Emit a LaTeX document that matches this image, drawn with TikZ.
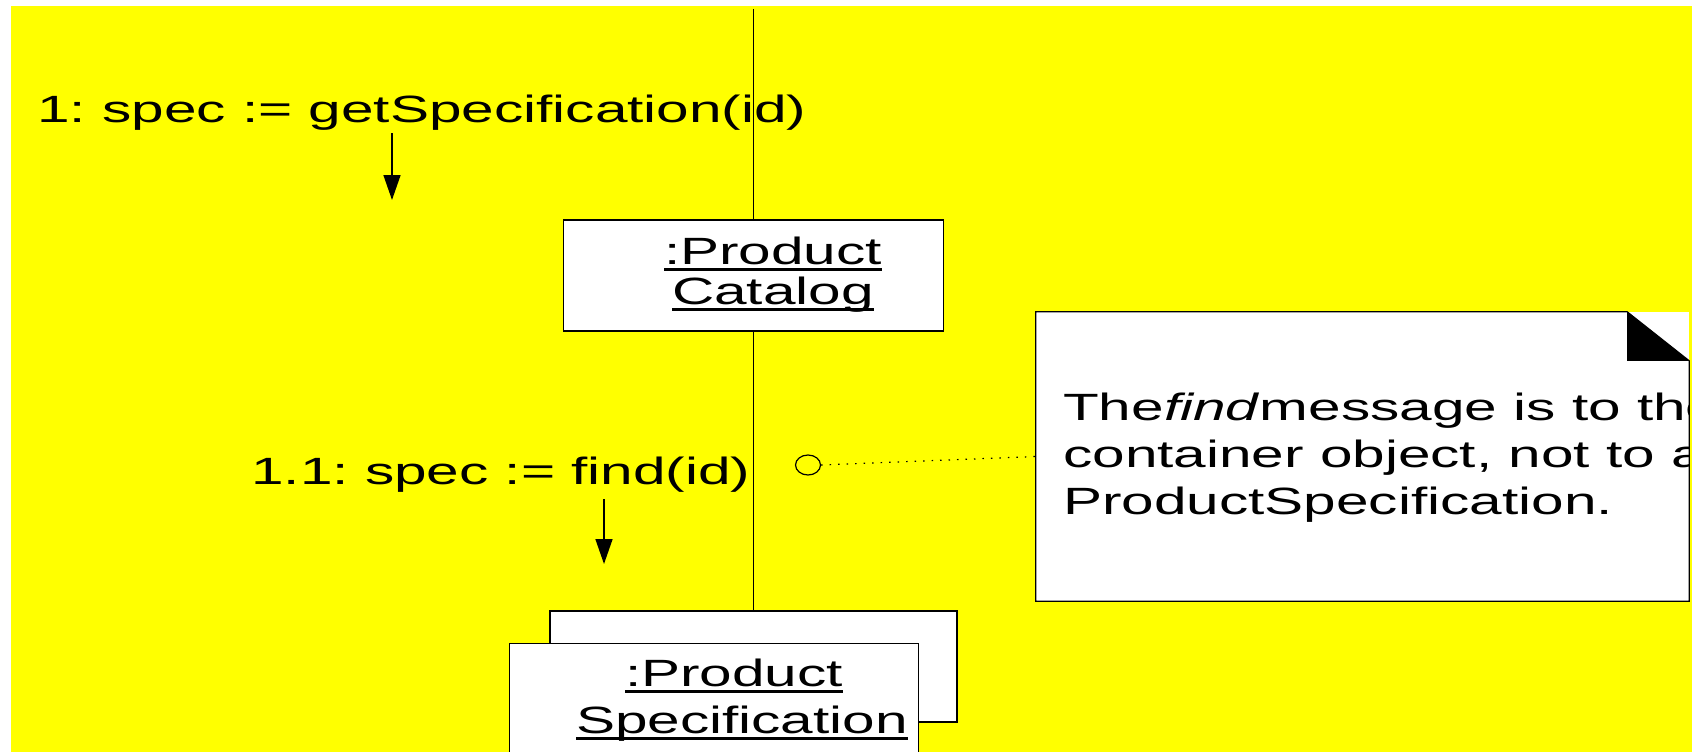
\documentclass[tikz,border=0pt]{standalone}
\usepackage{fontspec}
\setmainfont{Liberation Sans}[FakeStretch=1.54]
\usetikzlibrary{arrows.meta,shapes.geometric,calc}
\frenchspacing

\definecolor{bgyellow}{RGB}{255,255,0}

% underlined word with a heavy rule under the baseline
\newcommand\ulined[1]{\setbox0\hbox{#1}\rlap{\rule[-6.5pt]{\wd0}{2.8pt}}\box0}
\newcommand\labelfont{\fontsize{38pt}{47pt}\selectfont}

\tikzset{
  objbox/.style={draw, fill=white, line width=1.2pt, inner sep=0pt},
  lifeline/.style={line width=1.2pt},
  msg/.style={line width=1.5pt, -{Triangle[length=25pt,width=17pt]}},
  txt/.style={inner sep=0pt, font=\labelfont},
  link/.style={line width=1.2pt, dash pattern=on 1.5pt off 7pt},
  anchorring/.style={ellipse, draw, line width=1.2pt, minimum width=25pt, minimum height=20pt, inner sep=0pt},
}

\begin{document}
\begin{tikzpicture}[x=1pt,y=-1pt]
  \clip (0,0) rectangle (1695,752);
  \fill[white] (0,0) rectangle (1695,752);
  \fill[bgyellow] (11,6) rectangle (1692,752);

  % objects
  \node[objbox, minimum width=380pt, minimum height=111pt] (cat) at (753.5,275.5) {};
  \node[txt, anchor=base] (catA) at (773,264) {\ulined{:Product}};
  \node[txt, anchor=base] (catB) at (773,304) {\ulined{Catalog}};

  \node[objbox, minimum width=407pt, minimum height=111pt] (specback) at (753.5,666.5) {};
  \node[objbox, minimum width=409pt, minimum height=111pt, anchor=north west] (specfront) at (509,643) {};
  \node[txt, anchor=base] (specA) at (734,686) {\ulined{:Product}};
  \node[txt, anchor=base] (specB) at (742,733) {\ulined{Specification}};

  % links between the objects
  \coordinate (lifetop) at (753.5,9);
  \draw[lifeline] (lifetop) -- (cat.north);
  \draw[lifeline] (cat.south) -- (specback.north);

  % messages
  \node[txt, anchor=base west] (msgA) at (37,122) {1: spec := getSpecification(id)};
  \coordinate (m1a) at (392,133);
  \coordinate (m1b) at (392,200);
  \draw[msg] (m1a) -- (m1b);

  \node[txt, anchor=base west] (msgB) at (251,484) {1.1: spec := find(id)};
  \coordinate (m2a) at (604,499);
  \coordinate (m2b) at (604,564);
  \draw[msg] (m2a) -- (m2b);

  % note with folded corner
  \node[fill=white, inner sep=0pt, minimum width=653pt, minimum height=289pt] (note) at (1362.5,456.5) {};
  \draw[line width=1.2pt] (note.north west) -- ($(note.north east)+(-62,0)$)
      -- ($(note.north east)+(0,49)$) -- (note.south east) -- (note.south west) -- cycle;
  \fill[black] ($(note.north east)+(-62,0)$) -- ($(note.north east)+(-62,49)$)
      -- ($(note.north east)+(0,49)$) -- cycle;
  \begin{scope}
    \clip (note.north west) rectangle (note.south east);
    \node[txt, anchor=base west] (noteA) at (1063,420) {The\textit{find}message is to the};
    \node[txt, anchor=base west] (noteB) at (1063,467) {container object, not to a};
    \node[txt, anchor=base west] (noteC) at (1063,514) {ProductSpecification.};
  \end{scope}

  % note anchor
  \node[anchorring] (ring) at (808,465) {};
  \draw[link] (ring.east) -- (note.west);
\end{tikzpicture}
\end{document}
